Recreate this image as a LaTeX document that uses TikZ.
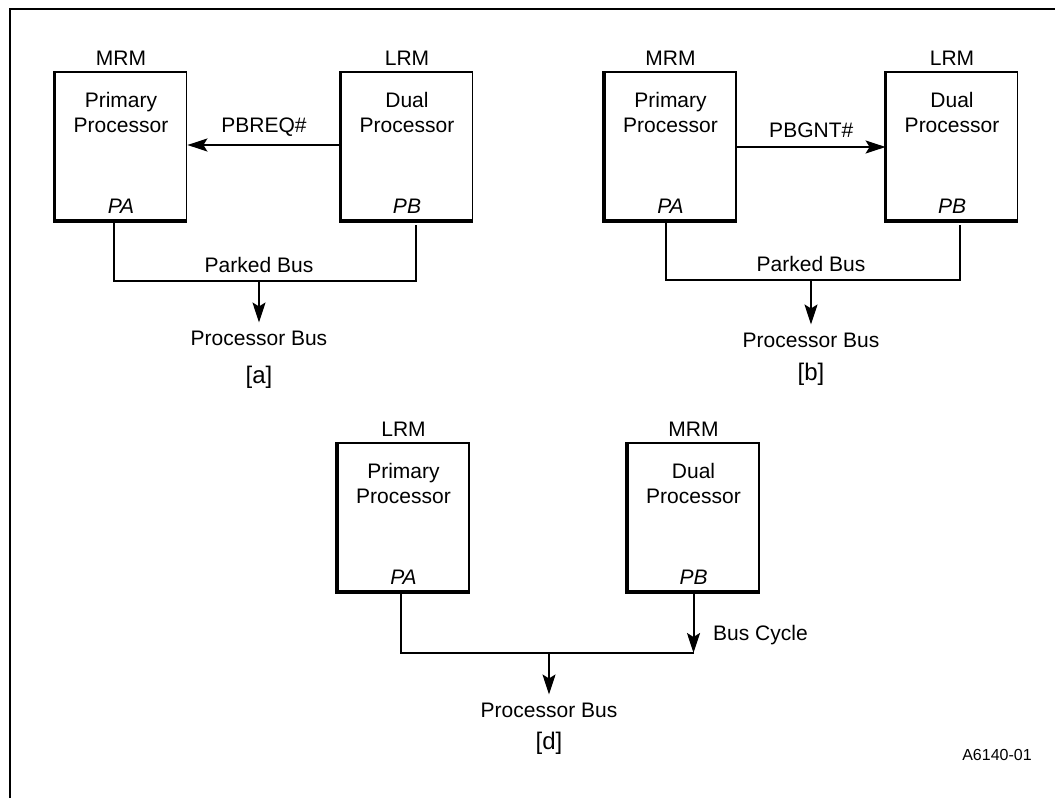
\documentclass[tikz,border=0pt]{standalone}
\usepackage{fontspec}
\setmainfont{Liberation Sans}
\usetikzlibrary{positioning,arrows.meta}

\tikzset{
  procbox/.style={draw,line width=1.8pt,minimum width=131pt,minimum height=148pt,inner sep=0pt},
  heavy/.style={line width=3.6pt},
  wire/.style={line width=2pt},
  sig/.style={wire,-{Stealth[length=20pt,width=13pt,inset=4pt]}},
  txt/.style={font=\fontsize{21}{25}\selectfont,align=center,inner sep=0pt}
}

\begin{document}
\begin{tikzpicture}[x=1pt,y=-1pt]
        \useasboundingbox (0,0) rectangle (1055,798);
        \draw[line width=2pt] (10,798) -- (10,9) -- (1055,9);

        % the six modules
        \node[procbox] (aL) at (121,146) {};
        \node[procbox] (aR) at (407,146) {};
        \node[procbox] (bL) at (670.5,146) {};
        \node[procbox] (bR) at (952,146) {};
        \node[procbox] (dL) at (403.5,517) {};
        \node[procbox] (dR) at (693.5,517) {};
        \foreach \b in {aL,aR,bL,bR,dL,dR}
          \draw[heavy] (\b.north west) -- (\b.south west) -- (\b.south east);

        % texts inside and above
        \foreach \b/\role/\name/\pin in {aL/MRM/Primary/PA,aR/LRM/Dual/PB,bL/MRM/Primary/PA,bR/LRM/Dual/PB,dL/LRM/Primary/PA,dR/MRM/Dual/PB} {
          \node[txt] (\b-role) at ([yshift=13pt]\b.north) {\role};
          \node[txt] (\b-name) at ([yshift=-41pt]\b.north) {\name\\Processor};
          \node[txt,font=\fontsize{21}{25}\selectfont\itshape] (\b-pin) at ([yshift=15pt]\b.south) {\pin};
        }

        % [a]
        \draw[sig] (aR.west |- 0,145) -- (aL.east |- 0,145) node[txt,midway,above=8pt] (req) {PBREQ\#};
        \coordinate (aPA) at ([xshift=-7pt]aL.south);
        \coordinate (aPB) at ([xshift=9pt,yshift=-4pt]aR.south);
        \coordinate (aBus) at (259,281);
        \node[txt] (aPbus) at (259,338) {Processor Bus};
        \node[txt,font=\fontsize{24}{28}\selectfont] (aTag) at (259,377) {[a]};
        \draw[wire] (aPA) |- (aBus) -| (aPB);
        \node[txt,above=8pt] (aPark) at (aBus) {Parked Bus};
        \draw[sig] (aBus) -- ([yshift=8pt]aPbus.north);

        % [b]
        \draw[sig] (bL.east |- 0,147) -- (bR.west |- 0,147) node[txt,midway,above=8pt] (gnt) {PBGNT\#};
        \coordinate (bPA) at ([xshift=-5pt]bL.south);
        \coordinate (bPB) at ([xshift=8pt,yshift=-4pt]bR.south);
        \coordinate (bBus) at (811,280);
        \node[txt] (bPbus) at (811,340) {Processor Bus};
        \node[txt,font=\fontsize{24}{28}\selectfont] (bTag) at (811,374) {[b]};
        \draw[wire] (bPA) |- (bBus) -| (bPB);
        \node[txt,above=8pt] (bPark) at (bBus) {Parked Bus};
        \draw[sig] (bBus) -- ([yshift=8pt]bPbus.north);

        % [d]
        \coordinate (dPA) at ([xshift=-3pt]dL.south);
        \coordinate (dPB) at (dR.south);
        \coordinate (dBus) at (549,653);
        \coordinate (dEnd) at (dPB |- dBus);
        \node[txt] (dPbus) at (549,710) {Processor Bus};
        \node[txt,font=\fontsize{24}{28}\selectfont] (dTag) at (549,743) {[d]};
        \draw[wire] (dPA) |- (dEnd);
        \draw[sig] (dPB) -- (dEnd);
        \node[txt,anchor=west] (cyc) at (713,635) {Bus Cycle};
        \draw[sig] (dBus) -- ([yshift=8pt]dPbus.north);

        \node[txt,font=\fontsize{16}{19}\selectfont] (fig) at (997,755) {A6140-01};
    \end{tikzpicture}
\end{document}
